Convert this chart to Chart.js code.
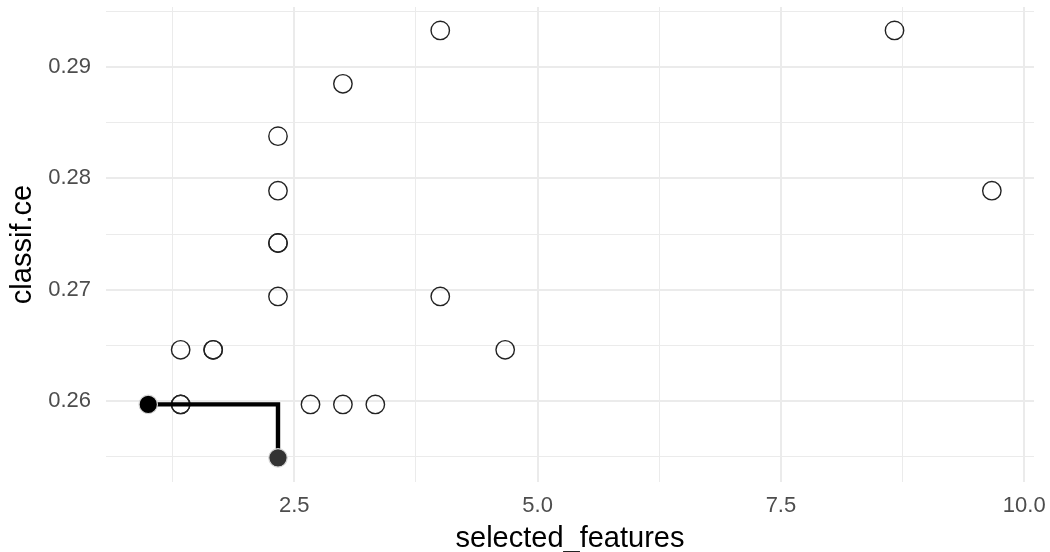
<!DOCTYPE html>
<html lang="en">
<head>
    <meta charset="UTF-8">
    <title>classif.ce vs selected_features</title>
    <script src="https://cdn.jsdelivr.net/npm/chart.js"></script>
    <style>
        body {
            margin: 0;
            background-color: #ffffff;
        }
        .wrap {
            width: 1050px;
            height: 552px;
        }
    </style>
</head>
<body>
    <div class="wrap">
        <canvas id="myChart" width="1050" height="552"></canvas>
    </div>

    <script>
        // all evaluated configurations (repeated entries are overlapping points)
        const featuresAll = [1.333, 1.333, 1.333, 1.667, 1.667, 2.667, 3, 3.333,
                             2.333, 2.333, 2.333, 2.333, 2.333, 3, 4, 4, 4.667, 8.667, 9.667];
        const ceAll = [0.2646, 0.2597, 0.2597, 0.2646, 0.2646, 0.2597, 0.2597, 0.2597,
                       0.2694, 0.2742, 0.2742, 0.2789, 0.2838, 0.2885, 0.2933, 0.2694, 0.2646, 0.2933, 0.2789];

        // pareto front
        const featuresFront = [1, 2.333];
        const ceFront = [0.2597, 0.2549];

        // axis ticks (majors carry a label, minors are blank)
        const xTicks = [1.25, 2.5, 3.75, 5, 6.25, 7.5, 8.75, 10];
        const xTickLabels = ['', '2.5', '', '5.0', '', '7.5', '', '10.0'];
        const yTicks = [0.255, 0.26, 0.265, 0.27, 0.275, 0.28, 0.285, 0.29, 0.295];
        const yTickLabels = ['', '0.26', '', '0.27', '', '0.28', '', '0.29', ''];

        const toPoints = (xs, ys) => xs.map((x, i) => ({ x: x, y: ys[i] }));

        const gridColor = '#EBEBEB';
        const fontFamily = '"Liberation Sans", Arial, sans-serif';

        const config = {
            type: 'scatter',
            data: {
                datasets: [
                    {
                        label: 'all',
                        data: toPoints(featuresAll, ceAll),
                        pointRadius: 9.2,
                        pointBorderWidth: 1.4,
                        pointBorderColor: '#222222',
                        pointBackgroundColor: 'rgba(0,0,0,0)',
                        order: 3
                    },
                    {
                        label: 'front line',
                        type: 'line',
                        data: toPoints(featuresFront, ceFront),
                        stepped: 'before',
                        borderColor: '#000000',
                        borderWidth: 4.4,
                        borderCapStyle: 'butt',
                        pointRadius: 0,
                        fill: false,
                        order: 2
                    },
                    {
                        label: 'front',
                        data: toPoints(featuresFront, ceFront),
                        pointRadius: 9.2,
                        pointBorderWidth: 1.2,
                        pointBorderColor: '#d6d6d6',
                        pointBackgroundColor: ['#000000', '#333333'],
                        order: 1
                    }
                ]
            },
            options: {
                responsive: false,
                animation: false,
                layout: {
                    autoPadding: false,
                    padding: { top: 7, right: 16, left: 0, bottom: 0 }
                },
                plugins: {
                    legend: { display: false },
                    tooltip: { enabled: false }
                },
                scales: {
                    x: {
                        type: 'linear',
                        min: 0.566,
                        max: 10.1,
                        border: { display: false },
                        afterBuildTicks: function (axis) {
                            axis.ticks = xTicks.map(v => ({ value: v }));
                        },
                        afterFit: function (axis) {
                            axis.height = 70;
                            axis.paddingLeft = 0;
                            axis.paddingRight = 0;
                        },
                        grid: {
                            color: gridColor,
                            drawTicks: false,
                            lineWidth: ctx => (xTickLabels[ctx.index] ? 2 : 1)
                        },
                        ticks: {
                            autoSkip: false,
                            maxRotation: 0,
                            padding: 11,
                            color: '#4D4D4D',
                            font: { family: fontFamily, size: 22 },
                            callback: (value, index) => xTickLabels[index]
                        },
                        title: {
                            display: true,
                            text: 'selected_features',
                            color: '#000000',
                            font: { family: fontFamily, size: 29, lineHeight: 0.9 },
                            padding: { top: 0, bottom: 0 }
                        }
                    },
                    y: {
                        type: 'linear',
                        min: 0.25273,
                        max: 0.29540,
                        border: { display: false },
                        afterBuildTicks: function (axis) {
                            axis.ticks = yTicks.map(v => ({ value: v }));
                        },
                        afterFit: function (axis) {
                            axis.width = 106;
                            axis.paddingTop = 0;
                            axis.paddingBottom = 0;
                        },
                        grid: {
                            color: gridColor,
                            drawTicks: false,
                            lineWidth: ctx => (yTickLabels[ctx.index] ? 2 : 1)
                        },
                        ticks: {
                            autoSkip: false,
                            padding: 15,
                            color: '#4D4D4D',
                            font: { family: fontFamily, size: 22 },
                            callback: (value, index) => yTickLabels[index]
                        },
                        title: {
                            display: true,
                            text: 'classif.ce',
                            color: '#000000',
                            font: { family: fontFamily, size: 29, lineHeight: 0.9 },
                            padding: { top: 10, bottom: 0 }
                        }
                    }
                }
            }
        };

        var myChart = new Chart(document.getElementById('myChart'), config);
    </script>
</body>
</html>
